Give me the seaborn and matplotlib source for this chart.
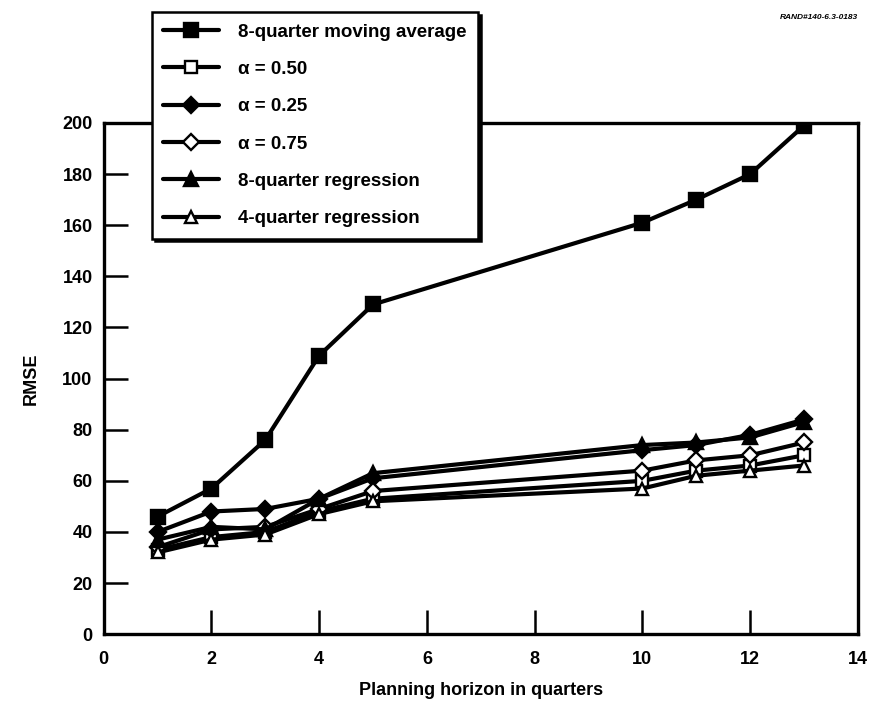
import matplotlib
matplotlib.use("Agg")
import matplotlib.pyplot as plt
import seaborn as sns
import pandas as pd

horizon = [1, 2, 3, 4, 5, 10, 11, 12, 13]
moving_avg_8q = [46, 57, 76, 109, 129, 161, 170, 180, 199]
alpha_050 = [33, 38, 40, 48, 53, 60, 64, 66, 70]
alpha_025 = [40, 48, 49, 53, 61, 72, 74, 78, 84]
alpha_075 = [34, 41, 42, 49, 56, 64, 68, 70, 75]
regression_8q = [37, 42, 41, 53, 63, 74, 75, 77, 83]
regression_4q = [32, 37, 39, 47, 52, 57, 62, 64, 66]

series_names = ["8-quarter moving average", "\u03b1 = 0.50", "\u03b1 = 0.25",
                "\u03b1 = 0.75", "8-quarter regression", "4-quarter regression"]
series_values = [moving_avg_8q, alpha_050, alpha_025, alpha_075, regression_8q, regression_4q]

x_ticks = [0, 2, 4, 6, 8, 10, 12, 14]
y_ticks = [0, 20, 40, 60, 80, 100, 120, 140, 160, 180, 200]

sns.set_theme(style="white")
plt.rcParams['font.family'] = ['Liberation Sans', 'DejaVu Sans']
plt.rcParams['font.weight'] = 'bold'
plt.rcParams['text.color'] = 'black'
plt.rcParams['axes.labelcolor'] = 'black'
plt.rcParams['xtick.color'] = 'black'
plt.rcParams['ytick.color'] = 'black'

fig = plt.figure(figsize=(8.71, 7.15), dpi=100)
ax = fig.add_axes([0.119, 0.113, 0.866, 0.715])

styles = [
    dict(marker='s', mfc='black', ms=9.5),
    dict(marker='s', mfc='white', ms=8.5),
    dict(marker='D', mfc='black', ms=8.5),
    dict(marker='D', mfc='white', ms=8.5),
    dict(marker='^', mfc='black', ms=9.5),
    dict(marker='^', mfc='white', ms=8.5),
]

for name, vals, st in zip(series_names, series_values, styles):
    df = pd.DataFrame({"x": horizon, "y": vals})
    sns.lineplot(data=df, x="x", y="y", ax=ax, color='black', linewidth=3.0,
                 marker=st['marker'], markersize=st['ms'],
                 markerfacecolor=st['mfc'], markeredgecolor='black',
                 markeredgewidth=1.7, label=name, zorder=3)

ax.set_xlim(0, 14)
ax.set_ylim(0, 200)
ax.set_xticks(x_ticks)
ax.set_yticks(y_ticks)
ax.tick_params(axis='both', which='major', direction='in', length=17, width=1.8,
               color='black', labelsize=13, labelcolor='black',
               bottom=True, left=True, top=False, right=False)
ax.tick_params(axis='x', pad=12)
ax.tick_params(axis='y', pad=8)
for lab in ax.get_xticklabels() + ax.get_yticklabels():
    lab.set_fontweight('bold')

for side in ['left', 'bottom', 'top', 'right']:
    ax.spines[side].set_visible(True)
    ax.spines[side].set_color('black')
    ax.spines[side].set_linewidth(2.4)

ax.set_xlabel("Planning horizon in quarters", fontsize=13, fontweight='bold', labelpad=10)
ax.set_ylabel("RMSE", fontsize=13, fontweight='bold', labelpad=16)

leg = ax.legend(loc='upper left', bbox_to_anchor=(0.1745, 0.983),
                bbox_transform=fig.transFigure, frameon=True, fancybox=False,
                shadow={'color': 'black', 'alpha': 1.0}, framealpha=1.0,
                edgecolor='black', facecolor='white', fontsize=13.5,
                labelspacing=1.08, handlelength=3.0, handletextpad=1.0,
                borderpad=0.6, borderaxespad=0)
leg.get_frame().set_linewidth(1.8)
for t in leg.get_texts():
    t.set_fontweight('bold')
    t.set_color('black')
leg.set_zorder(10)

fig.text(0.985, 0.975, "RAND#140-6.3-0183", ha='right', va='center',
         fontsize=6, fontweight='bold', style='italic')

fig.savefig("out.png", dpi=100)
